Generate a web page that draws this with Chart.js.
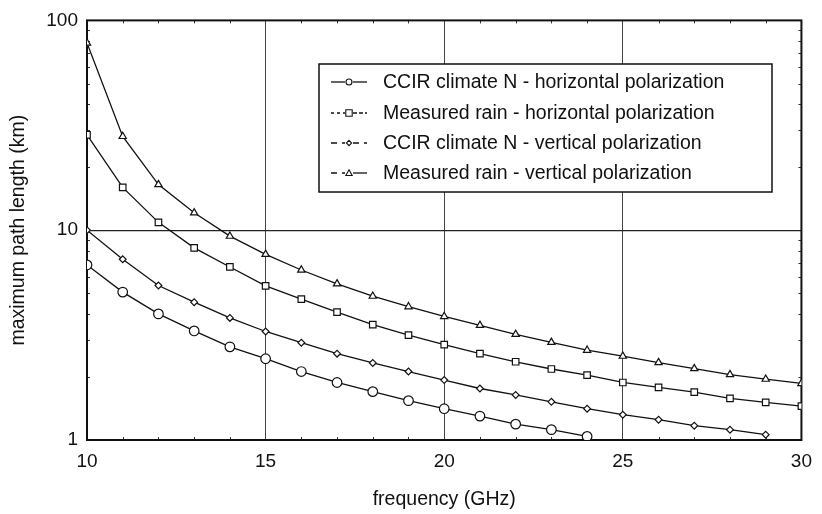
<!DOCTYPE html>
<html lang="en">
<head>
  <meta charset="UTF-8">
  <title>Maximum path length vs frequency</title>
  <script src="https://cdn.jsdelivr.net/npm/chart.js"></script>
  <style>
    html, body { margin: 0; padding: 0; background: #fff; }
    #wrap { width: 822px; height: 514px; }
  </style>
</head>
<body>
  <div id="wrap"><canvas id="pathChart" width="822" height="514"></canvas></div>

  <script>
    // frequency in GHz, path lengths in km
    const freqs = [10, 11, 12, 13, 14, 15, 16, 17, 18, 19, 20, 21, 22, 23, 24, 25, 26, 27, 28, 29, 30];
    const ccirHoriz = [6.83, 5.07, 3.99, 3.31, 2.78, 2.44, 2.12, 1.88, 1.70, 1.54, 1.41, 1.30, 1.19, 1.12, 1.04];
    const rainHoriz = [28.5, 16.0, 10.9, 8.24, 6.68, 5.43, 4.69, 4.07, 3.55, 3.16, 2.85, 2.58, 2.36, 2.18, 2.04, 1.88, 1.78, 1.69, 1.58, 1.51, 1.45];
    const ccirVert = [10.0, 7.27, 5.45, 4.54, 3.82, 3.29, 2.91, 2.58, 2.33, 2.12, 1.93, 1.76, 1.64, 1.52, 1.41, 1.32, 1.25, 1.17, 1.12, 1.06];
    const rainVert = [78, 28.0, 16.5, 12.1, 9.37, 7.67, 6.46, 5.55, 4.85, 4.32, 3.88, 3.52, 3.19, 2.92, 2.68, 2.51, 2.34, 2.19, 2.05, 1.95, 1.86];

    const xTicks = [10, 15, 20, 25, 30];
    const yTicks = [1, 10, 100];

    const seriesNames = [
      'CCIR climate N - horizontal polarization',
      'Measured rain - horizontal polarization',
      'CCIR climate N - vertical polarization',
      'Measured rain - vertical polarization'
    ];

    const FONT = "Arial, 'Liberation Sans', sans-serif";

    function pairs(vals) {
      return vals.map((v, i) => ({ x: freqs[i], y: v }));
    }

    function series(label, vals, style, radius) {
      return {
        label: label,
        data: pairs(vals),
        borderColor: '#111',
        borderWidth: 1.3,
        pointStyle: style,
        pointRadius: radius,
        pointBackgroundColor: '#fff',
        pointBorderColor: '#111',
        pointBorderWidth: 1.2,
        tension: 0
      };
    }

    // marker drawing for the legend samples
    function marker(ctx, style, x, y, r) {
      ctx.save();
      ctx.setLineDash([]);
      ctx.fillStyle = '#fff';
      ctx.strokeStyle = '#111';
      ctx.lineWidth = 1.1;
      ctx.beginPath();
      if (style === 'circle') {
        ctx.arc(x, y, r, 0, Math.PI * 2);
      } else if (style === 'rect') {
        ctx.rect(x - r, y - r, r * 2, r * 2);
      } else if (style === 'rectRot') {
        ctx.moveTo(x, y - r); ctx.lineTo(x + r, y); ctx.lineTo(x, y + r); ctx.lineTo(x - r, y); ctx.closePath();
      } else {
        ctx.moveTo(x, y - r); ctx.lineTo(x + r, y + r * 0.8); ctx.lineTo(x - r, y + r * 0.8); ctx.closePath();
      }
      ctx.fill();
      ctx.stroke();
      ctx.restore();
    }

    const framePlugin = {
      id: 'frame',
      beforeDatasetsDraw(chart) {
        const { ctx, chartArea: a, scales } = chart;
        ctx.save();
        ctx.strokeStyle = '#333';
        ctx.lineWidth = 1;
        // small inward ticks
        for (let f = 11; f < 30; f++) {
          if (f % 5 === 0) continue;
          const px = Math.round(scales.x.getPixelForValue(f)) + 0.5;
          ctx.beginPath();
          ctx.moveTo(px, a.bottom); ctx.lineTo(px, a.bottom - 3);
          ctx.moveTo(px, a.top); ctx.lineTo(px, a.top + 3);
          ctx.stroke();
        }
        [2, 3, 4, 5, 6, 7, 8, 9, 20, 30, 40, 50, 60, 70, 80, 90].forEach(v => {
          const py = Math.round(scales.y.getPixelForValue(v)) + 0.5;
          ctx.beginPath();
          ctx.moveTo(a.left, py); ctx.lineTo(a.left + 3, py);
          ctx.moveTo(a.right, py); ctx.lineTo(a.right - 3, py);
          ctx.stroke();
        });
        // plot frame
        ctx.strokeStyle = '#111';
        ctx.lineWidth = 2;
        ctx.strokeRect(a.left, a.top, a.right - a.left, a.bottom - a.top);
        ctx.restore();
      },
      afterDraw(chart) {
        const ctx = chart.ctx;
        const box = { x: 319, y: 64, w: 453, h: 128 };
        ctx.save();
        ctx.fillStyle = '#fff';
        ctx.fillRect(box.x, box.y, box.w, box.h);
        ctx.strokeStyle = '#111';
        ctx.lineWidth = 1.5;
        ctx.strokeRect(box.x, box.y, box.w, box.h);

        const styles = ['circle', 'rect', 'rectRot', 'triangle'];
        const radii = [3, 3.2, 2.6, 3.2];
        const dashes = [[[], []], [[3, 3], [4, 2]], [[6, 5], [6, 5]], [[6, 5], []]];
        const rows = [82, 113, 143, 173];
        const x0 = 331, x1 = 367, xm = 349;
        ctx.font = '19.5px ' + FONT;
        ctx.textBaseline = 'middle';
        ctx.fillStyle = '#111';
        rows.forEach((y, i) => {
          ctx.lineWidth = 1.3;
          ctx.setLineDash(dashes[i][0]);
          ctx.beginPath(); ctx.moveTo(x0, y); ctx.lineTo(xm - 4, y); ctx.stroke();
          ctx.setLineDash(dashes[i][1]);
          ctx.beginPath(); ctx.moveTo(xm + 4, y); ctx.lineTo(x1, y); ctx.stroke();
          marker(ctx, styles[i], xm, y, radii[i]);
          ctx.setLineDash([]);
          ctx.fillText(seriesNames[i], 383, y + 1);
        });
        ctx.restore();
      }
    };

    const ctx = document.getElementById('pathChart').getContext('2d');
    const chart = new Chart(ctx, {
      type: 'line',
      data: {
        datasets: [
          series(seriesNames[0], ccirHoriz, 'circle', 4.8),
          series(seriesNames[1], rainHoriz, 'rect', 4.6),
          series(seriesNames[2], ccirVert, 'rectRot', 3.4),
          series(seriesNames[3], rainVert, 'triangle', 4.2)
        ]
      },
      options: {
        responsive: false,
        animation: false,
        layout: { padding: { left: 0, top: 17, right: 12, bottom: 0 } },
        plugins: {
          legend: { display: false },
          tooltip: { enabled: false }
        },
        scales: {
          x: {
            type: 'linear',
            min: 10,
            max: 30,
            afterBuildTicks: s => { s.ticks = xTicks.map(v => ({ value: v })); },
            afterFit: s => { s.height = 74; },
            border: { display: false },
            grid: {
              drawTicks: false,
              color: ctx => (ctx.tick && (ctx.tick.value === 10 || ctx.tick.value === 30)) ? 'rgba(0,0,0,0)' : '#444',
              lineWidth: 1
            },
            ticks: { color: '#111', font: { family: FONT, size: 19 }, padding: 10, maxRotation: 0 },
            title: { display: true, text: 'frequency (GHz)', color: '#111', font: { family: FONT, size: 19.5 }, padding: { top: 0, bottom: 3 } }
          },
          y: {
            type: 'logarithmic',
            min: 1,
            max: 100,
            afterBuildTicks: s => { s.ticks = yTicks.map(v => ({ value: v, major: true })); },
            afterFit: s => { s.width = 87; },
            border: { display: false },
            grid: {
              drawTicks: false,
              color: ctx => (ctx.tick && ctx.tick.value === 10) ? '#222' : 'rgba(0,0,0,0)',
              lineWidth: 1.2
            },
            ticks: { color: '#111', font: { family: FONT, size: 19 }, padding: 9, callback: v => String(v) },
            title: { display: true, text: 'maximum path length (km)', color: '#111', font: { family: FONT, size: 19.5 }, padding: { top: 7, bottom: 0 } }
          }
        }
      },
      plugins: [framePlugin]
    });
  </script>
</body>
</html>
